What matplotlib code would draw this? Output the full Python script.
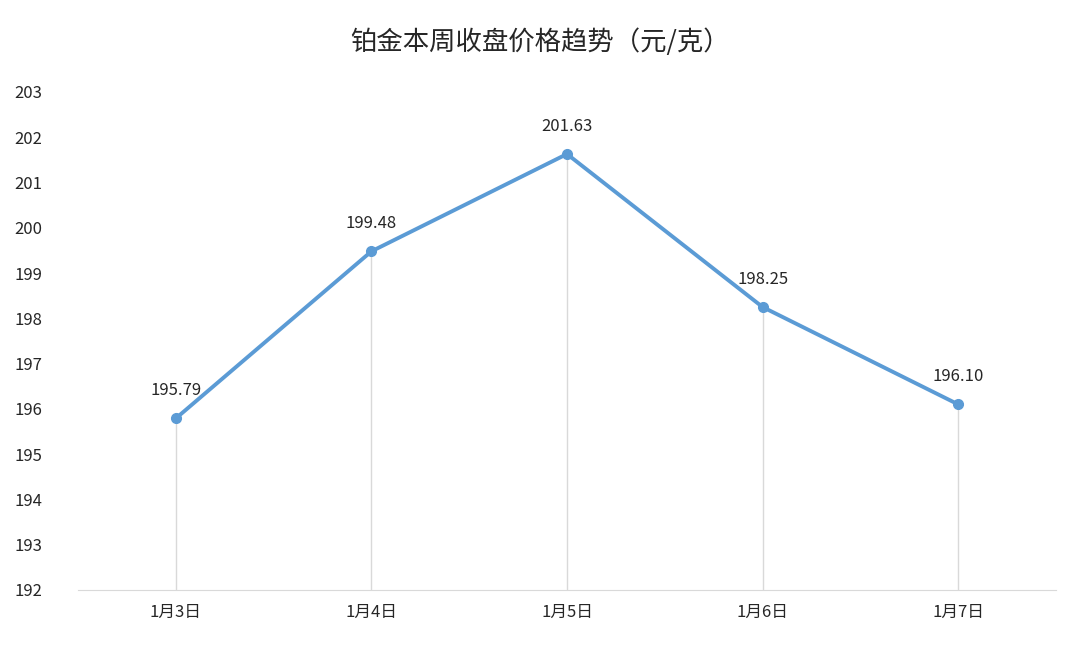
import matplotlib
matplotlib.use("Agg")
import matplotlib.pyplot as plt

plt.rcParams['font.family'] = ['Noto Sans CJK SC', 'DejaVu Sans']

title = "铂金本周收盘价格趋势（元/克）"
categories = ["1月3日", "1月4日", "1月5日", "1月6日", "1月7日"]
values = [195.79, 199.48, 201.63, 198.25, 196.10]
yticks = list(range(192, 204))

fig = plt.figure(figsize=(10.8, 6.48), dpi=100)
ax = fig.add_axes([78/1080, 1-590/648, (1056-78)/1080, (590-92)/648])
x = list(range(len(categories)))
ax.vlines(x, 192, values, color='#d9d9d9', lw=1, zorder=1)
ax.plot(x, values, color='#5b9bd5', lw=2.8, marker='o', ms=7, zorder=3)
for xi, v in zip(x, values):
    ax.annotate(f"{v:.2f}", (xi, v), xytext=(0, 14), textcoords='offset points',
                ha='center', va='bottom', fontsize=12, color='#262626')
ax.set_xlim(-0.5, len(categories) - 0.5)
ax.set_ylim(192, 203)
ax.set_yticks(yticks)
ax.set_xticks(x)
ax.set_xticklabels(categories, fontsize=12, color='#262626')
ax.tick_params(axis='y', length=0, labelsize=12, labelcolor='#262626', pad=26)
ax.tick_params(axis='x', length=0, pad=10)
for s in ['top', 'right', 'left']:
    ax.spines[s].set_visible(False)
ax.spines['bottom'].set_color('#d9d9d9')
fig.text(0.5, 1-42/648, title, ha='center', va='center', fontsize=19, color='#262626')
fig.savefig("out.png", dpi=100)
